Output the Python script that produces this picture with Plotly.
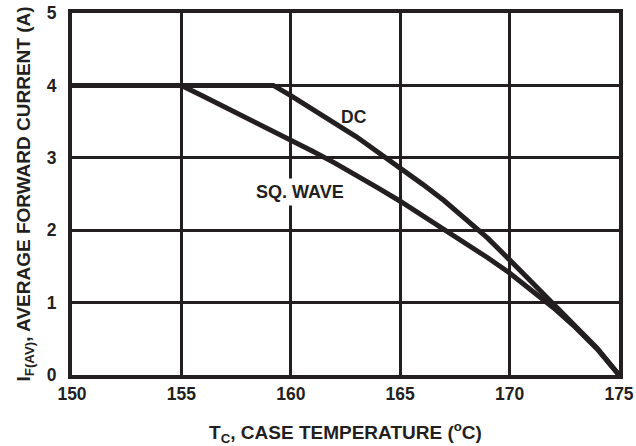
import plotly.graph_objects as go

# Data
dc_temp = [150, 159.2, 160, 161, 162, 163, 164, 165, 166, 167, 168, 169, 170,
           171, 172, 173, 174, 175]
dc_curr = [4.0, 4.0, 3.86, 3.68, 3.48, 3.29, 3.08, 2.86, 2.64, 2.41, 2.16, 1.89, 1.59,
           1.29, 0.98, 0.67, 0.37, 0.0]
sq_temp = [150, 155, 156, 157, 158, 159, 160, 161, 162, 163, 164, 165, 166, 167,
           168, 169, 170, 171, 172, 173, 174, 175]
sq_curr = [4.0, 4.0, 3.85, 3.70, 3.55, 3.40, 3.25, 3.09, 2.93, 2.76, 2.58, 2.40, 2.21, 2.02,
           1.82, 1.62, 1.41, 1.18, 0.93, 0.66, 0.36, 0.0]

x_ticks = [150, 155, 160, 165, 170, 175]
y_ticks = [0, 1, 2, 3, 4, 5]

FONT = "Liberation Sans, Arial, sans-serif"
INK = "#231f20"

fig = go.Figure()
fig.add_trace(go.Scatter(x=sq_temp, y=sq_curr, mode="lines",
                         line=dict(color=INK, width=5), name="SQ. WAVE",
                         hoverinfo="skip"))
fig.add_trace(go.Scatter(x=dc_temp, y=dc_curr, mode="lines",
                         line=dict(color=INK, width=5), name="DC",
                         hoverinfo="skip"))

fig.add_annotation(x=162.9, y=3.56, text="DC", showarrow=False,
                   font=dict(family=FONT, size=17.5, color=INK, weight="bold"))
fig.add_annotation(x=160.4, y=2.53, text="SQ. WAVE", showarrow=False,
                   bgcolor="white", borderpad=3,
                   font=dict(family=FONT, size=18, color=INK, weight="bold"))

fig.update_layout(
    width=636, height=446,
    margin=dict(l=72, r=17, t=13, b=71),
    paper_bgcolor="white", plot_bgcolor="white",
    showlegend=False,
    font=dict(family=FONT, size=17, color=INK, weight="bold"),
    xaxis=dict(range=[150, 175], tickvals=x_ticks, ticks="", showgrid=True,
               gridcolor=INK, gridwidth=3, showline=True, linecolor=INK,
               linewidth=4, mirror=True, zeroline=False, automargin=False,
               tickfont=dict(family=FONT, size=17.5, weight="bold"),
               title=dict(text="T<sub>C</sub>, CASE TEMPERATURE (<sup>o</sup>C)",
                          font=dict(family=FONT, size=19, weight="bold"), standoff=25)),
    yaxis=dict(range=[0, 5], tickvals=y_ticks, ticks="", showgrid=True,
               gridcolor=INK, gridwidth=3, showline=True, linecolor=INK,
               linewidth=4, mirror=True, zeroline=False, ticklabelstandoff=8,
               automargin=False,
               tickfont=dict(family=FONT, size=17.5, weight="bold"),
               title=dict(text="I<sub>F(AV)</sub>, AVERAGE FORWARD CURRENT (A)",
                          font=dict(family=FONT, size=19, weight="bold"), standoff=12)),
)

fig.write_html("out.html")
